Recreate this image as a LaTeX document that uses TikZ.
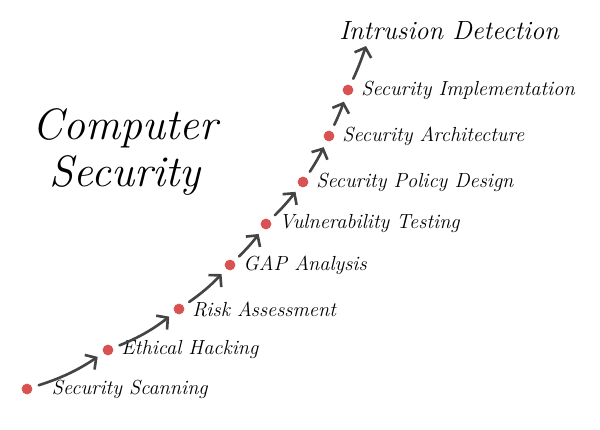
\documentclass[tikz,border=0pt]{standalone}
\usepackage{tikz}
\usetikzlibrary{
	positioning,
	arrows.meta}
\definecolor{dotred}{RGB}{217,82,82}
\definecolor{flowgray}{RGB}{68,68,68}
\tikzset{
	stair/.style={
		x=0.02cm, y=-0.02cm,
		node distance=0.12cm
		},
	stage/.style={
		circle,
		draw=dotred,
		fill=dotred,
		inner sep=0pt,
		minimum size=0.2cm
	},
	stage text/.style={
		font=\fontsize{11.6}{13}\selectfont\itshape,
		inner sep=1pt,
		anchor=west
	},
	flow/.style={
		draw=flowgray,
		line width=1.5pt,
		line cap=round,
		shorten <=4pt, shorten >=4pt,
		-{Straight Barb[length=4.5pt, width=10pt, line width=1.5pt]}
	},
	title text/.style={
		font=\fontsize{25}{27}\selectfont\itshape,
		align=center
	},
}
\begin{document}
\begin{tikzpicture}[stair]
	\useasboundingbox (0,0) rectangle (600,430);
	\node[stage] (s1) at (27,389) {};
	\node[stage] (s2) at (108,350) {};
	\node[stage] (s3) at (179,309) {};
	\node[stage] (s4) at (230,265) {};
	\node[stage] (s5) at (266,224) {};
	\node[stage] (s6) at (303,182) {};
	\node[stage] (s7) at (329,136) {};
	\node[stage] (s8) at (348,90) {};
	\coordinate (top) at (366,46);
%
	\node[stage text, right=0.35cm of s1] (t1) {Security Scanning};
	\node[stage text, right=of s2] (t2) {Ethical Hacking};
	\node[stage text, right=of s3] (t3) {Risk Assessment};
	\node[stage text, right=of s4] (t4) {GAP Analysis};
	\node[stage text, right=of s5] (t5) {Vulnerability Testing};
	\node[stage text, right=of s6] (t6) {Security Policy Design};
	\node[stage text, right=of s7] (t7) {Security Architecture};
	\node[stage text, right=of s8] (t8) {Security Implementation};
	\node[font=\fontsize{15}{17}\selectfont\itshape] (goal) at (449,31) {Intrusion Detection};
	\node[title text] (title) at (125,152) {Computer\\Security};
%
	\draw[flow] (s1) to[bend right=8] (s2);
	\draw[flow] (s2) to[bend right=8] (s3);
	\draw[flow] (s3) to[bend right=6] (s4);
	\draw[flow] (s4) to[bend right=5] (s5);
	\draw[flow] (s5) to[bend right=4] (s6);
	\draw[flow] (s6) to[bend right=4] (s7);
	\draw[flow] (s7) to[bend right=3] (s8);
	\draw[flow, shorten >=0pt] (s8) to[bend right=3] (top);
\end{tikzpicture}
\end{document}
